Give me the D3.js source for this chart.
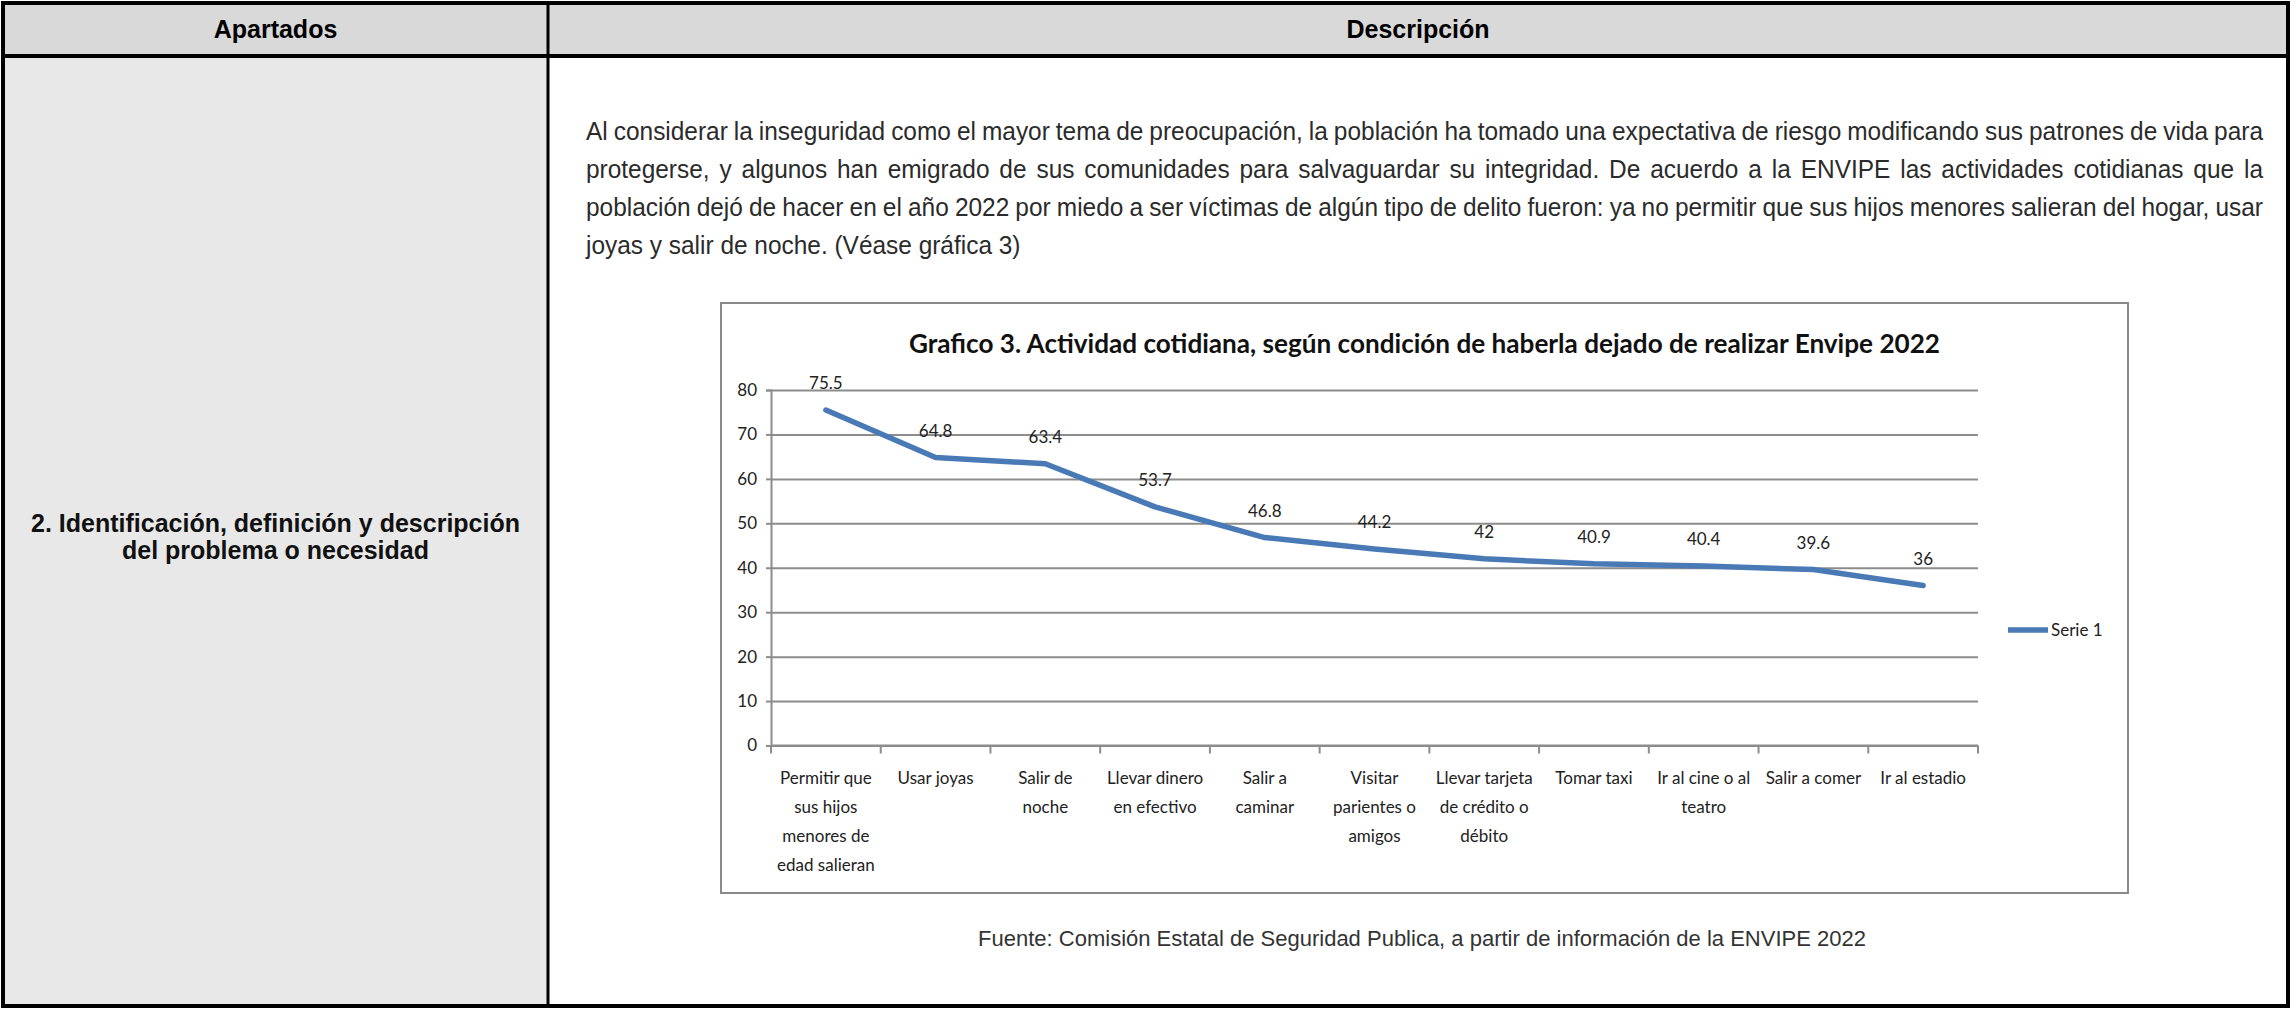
<!DOCTYPE html>
<html>
<head>
<meta charset="utf-8">
<script src="https://cdn.jsdelivr.net/npm/d3@7"></script>
<style>
  html, body { margin: 0; padding: 0; background: #ffffff; }
  svg { display: block; }
</style>
</head>
<body>
<div id="root"></div>
<script>
// ---------- data ----------
const categories = [
  "Permitir que sus hijos menores de edad salieran",
  "Usar joyas",
  "Salir de noche",
  "Llevar dinero en efectivo",
  "Salir a caminar",
  "Visitar parientes o amigos",
  "Llevar tarjeta de crédito o débito",
  "Tomar taxi",
  "Ir al cine o al teatro",
  "Salir a comer",
  "Ir al estadio"
];
const values = [75.5, 64.8, 63.4, 53.7, 46.8, 44.2, 42, 40.9, 40.4, 39.6, 36];
const valueLabels = ["75.5", "64.8", "63.4", "53.7", "46.8", "44.2", "42", "40.9", "40.4", "39.6", "36"];
const tickLabelLines = [
  ["Permitir que", "sus hijos", "menores de", "edad salieran"],
  ["Usar joyas"],
  ["Salir de", "noche"],
  ["Llevar dinero", "en efectivo"],
  ["Salir a", "caminar"],
  ["Visitar", "parientes o", "amigos"],
  ["Llevar tarjeta", "de crédito o", "débito"],
  ["Tomar taxi"],
  ["Ir al cine o al", "teatro"],
  ["Salir a comer"],
  ["Ir al estadio"]
];
const yTicks = [0, 10, 20, 30, 40, 50, 60, 70, 80];
const seriesName = "Serie 1";
const chartTitle = "Grafico 3. Actividad cotidiana, según condición de haberla dejado de realizar Envipe 2022";
const sourceText = "Fuente:  Comisión Estatal de Seguridad Publica, a partir de información de la ENVIPE 2022";
const headerLeft = "Apartados";
const headerRight = "Descripción";
const leftCellLines = ["2. Identificación, definición y descripción", "del problema o necesidad"];
const paragraphLines = [
  "Al considerar la inseguridad como el mayor tema de preocupación, la población ha tomado una expectativa de riesgo modificando sus patrones de vida para",
  "protegerse, y algunos han emigrado de sus comunidades para salvaguardar su integridad. De acuerdo a la ENVIPE las actividades cotidianas que la",
  "población dejó de hacer en el año 2022 por miedo a ser víctimas de algún tipo de delito fueron: ya no permitir que sus hijos menores salieran del hogar, usar",
  "joyas y salir de noche. (Véase gráfica 3)"
];

// ---------- layout ----------
const W = 2291, H = 1009;
const svg = d3.select("#root").append("svg").attr("width", W).attr("height", H);

const T = { left: 3, right: 2288, top: 3, bottom: 1006, headerBottom: 56, divider: 548 };

svg.append("rect").attr("x", T.left).attr("y", T.top).attr("width", T.right - T.left).attr("height", T.headerBottom - T.top).attr("fill", "#d9d9d9");
svg.append("rect").attr("x", T.left).attr("y", T.headerBottom).attr("width", T.divider - T.left).attr("height", T.bottom - T.headerBottom).attr("fill", "#e8e8e8");

const tbl = svg.append("g").attr("stroke", "#000").attr("fill", "none");
tbl.append("rect").attr("x", T.left).attr("y", T.top).attr("width", T.right - T.left).attr("height", T.bottom - T.top).attr("stroke-width", 4);
tbl.append("line").attr("x1", T.left).attr("x2", T.right).attr("y1", T.headerBottom).attr("y2", T.headerBottom).attr("stroke-width", 4);
tbl.append("line").attr("x1", T.divider).attr("x2", T.divider).attr("y1", T.top).attr("y2", T.bottom).attr("stroke-width", 3);

const narrow = "'Liberation Sans Narrow', 'Arial Narrow', 'Liberation Sans', Arial, sans-serif";
const arial = "'Liberation Sans', Arial, sans-serif";
const calibri = "Lato, Carlito, Calibri, sans-serif";

svg.append("text").attr("x", (T.left + T.divider) / 2).attr("y", 38).attr("text-anchor", "middle")
  .attr("font-family", narrow).attr("font-weight", "bold").attr("font-size", 25).attr("fill", "#000").text(headerLeft);
svg.append("text").attr("x", (T.divider + T.right) / 2).attr("y", 38).attr("text-anchor", "middle")
  .attr("font-family", narrow).attr("font-weight", "bold").attr("font-size", 25).attr("fill", "#000").text(headerRight);

leftCellLines.forEach((t, i) => {
  svg.append("text").attr("x", (T.left + T.divider) / 2).attr("y", 532 + i * 27).attr("text-anchor", "middle")
    .attr("font-family", arial).attr("font-weight", "bold").attr("font-size", 25).attr("fill", "#111").text(t);
});

// paragraph, justified (slightly condensed glyphs)
const pLeft = 586, pRight = 2263, pBase = 140, pLH = 38, pSx = 0.94;
paragraphLines.forEach((line, i) => {
  const y = pBase + i * pLH;
  const g = svg.append("g").attr("transform", `translate(${pLeft},${y}) scale(${pSx},1)`)
    .attr("font-family", narrow).attr("font-size", 26).attr("fill", "#2b2b2b");
  const target = (pRight - pLeft) / pSx;
  if (i === paragraphLines.length - 1) {
    g.append("text").attr("x", 0).attr("y", 0).text(line);
    return;
  }
  const words = line.split(" ");
  const nodes = words.map(w => g.append("text").attr("y", 0).text(w));
  const widths = nodes.map(n => n.node().getComputedTextLength());
  const total = d3.sum(widths);
  const gap = (target - total) / (words.length - 1);
  if (gap < 4) {
    nodes.forEach(n => n.remove());
    g.append("text").attr("x", 0).attr("y", 0).attr("textLength", target)
      .attr("lengthAdjust", "spacingAndGlyphs").text(line);
  } else {
    let x = 0;
    nodes.forEach((n, k) => { n.attr("x", x); x += widths[k] + gap; });
  }
});

// ---------- chart ----------
const box = { x: 721, y: 303, w: 1407, h: 590 };
svg.append("rect").attr("x", box.x).attr("y", box.y).attr("width", box.w).attr("height", box.h)
  .attr("fill", "#fff").attr("stroke", "#8a8a8a").attr("stroke-width", 2);

const plot = { left: 771, right: 1978, top: 390, bottom: 745.5 };
const x = d3.scaleBand().domain(categories).range([plot.left, plot.right]).padding(0);
const y = d3.scaleLinear().domain([0, 80]).range([plot.bottom, plot.top]);

const chart = svg.append("g");

chart.append("text").attr("x", box.x + box.w / 2).attr("y", 353).attr("text-anchor", "middle")
  .attr("font-family", calibri).attr("font-weight", "bold").attr("font-size", 26).attr("fill", "#111")
  .attr("textLength", 1031).attr("lengthAdjust", "spacingAndGlyphs").text(chartTitle);

const yAxis = d3.axisLeft(y).tickValues(yTicks).tickSize(-(plot.right - plot.left)).tickPadding(14).tickFormat(d3.format("d"));
const yg = chart.append("g").attr("transform", `translate(${plot.left},0)`).call(yAxis);
yg.select(".domain").remove();
yg.selectAll(".tick line").attr("stroke", "#8c8c8c").attr("stroke-width", 2);
yg.selectAll(".tick text").attr("font-family", calibri).attr("font-size", 17).attr("fill", "#222");
const yOut = chart.append("g").attr("transform", `translate(${plot.left},0)`)
  .call(d3.axisLeft(y).tickValues(yTicks).tickSize(5).tickFormat(""));
yOut.select(".domain").attr("stroke", "#8c8c8c").attr("stroke-width", 2);
yOut.selectAll(".tick line").attr("stroke", "#8c8c8c").attr("stroke-width", 2);

const xAxis = d3.axisBottom(x).tickSize(0).tickFormat("");
const xg = chart.append("g").attr("transform", `translate(0,${plot.bottom})`).call(xAxis);
xg.select(".domain").attr("stroke", "#8c8c8c").attr("stroke-width", 2).attr("d", `M${plot.left},0H${plot.right}`);
const boundaries = categories.map(c => x(c)).concat([x(categories[categories.length - 1]) + x.bandwidth()]);
chart.append("g").selectAll("line").data(boundaries).join("line")
  .attr("x1", d => d).attr("x2", d => d).attr("y1", plot.bottom).attr("y2", plot.bottom + 8)
  .attr("stroke", "#8c8c8c").attr("stroke-width", 2);

const xl = chart.append("g").attr("font-family", calibri).attr("font-size", 17).attr("fill", "#222").attr("text-anchor", "middle");
categories.forEach((c, i) => {
  tickLabelLines[i].forEach((ln, k) => {
    xl.append("text").attr("x", x(c) + x.bandwidth() / 2).attr("y", 784 + k * 29).text(ln);
  });
});

const pts = categories.map((c, i) => [x(c) + x.bandwidth() / 2, y(values[i])]);
const lineGen = d3.line().curve(d3.curveLinear);
chart.append("path").attr("d", lineGen(pts)).attr("fill", "none").attr("stroke", "#4a7ab6")
  .attr("stroke-width", 5.5).attr("stroke-linejoin", "round").attr("stroke-linecap", "round");

chart.append("g").attr("font-family", calibri).attr("font-size", 17).attr("fill", "#222").attr("text-anchor", "middle")
  .selectAll("text").data(categories).join("text")
  .attr("x", c => x(c) + x.bandwidth() / 2)
  .attr("y", (c, i) => y(values[i]) - 21)
  .text((c, i) => valueLabels[i]);

chart.append("line").attr("x1", 2008).attr("x2", 2048).attr("y1", 630).attr("y2", 630)
  .attr("stroke", "#4a7ab6").attr("stroke-width", 5.5);
chart.append("text").attr("x", 2051).attr("y", 636).attr("font-family", calibri).attr("font-size", 17).attr("fill", "#222").text(seriesName);

svg.append("text").attr("x", 1422).attr("y", 946).attr("text-anchor", "middle")
  .attr("font-family", narrow).attr("font-size", 22).attr("fill", "#333").text(sourceText);
</script>
</body>
</html>
